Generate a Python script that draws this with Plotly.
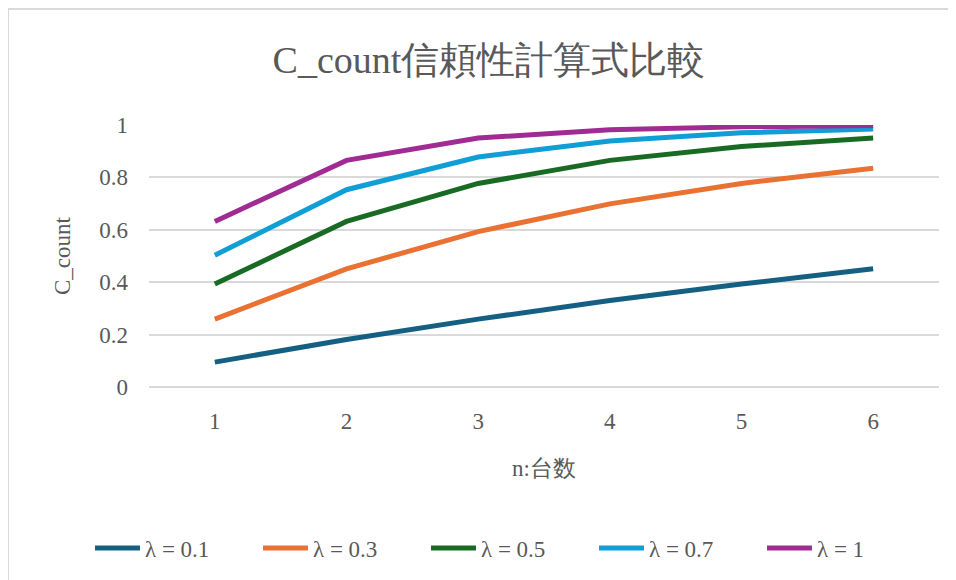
import plotly.graph_objects as go

n_units = [1, 2, 3, 4, 5, 6]
series_names = ["λ = 0.1", "λ = 0.3", "λ = 0.5", "λ = 0.7", "λ = 1"]
c_l01 = [0.095, 0.181, 0.259, 0.330, 0.393, 0.451]
c_l03 = [0.259, 0.451, 0.593, 0.699, 0.777, 0.835]
c_l05 = [0.393, 0.632, 0.777, 0.865, 0.918, 0.950]
c_l07 = [0.503, 0.753, 0.878, 0.939, 0.970, 0.985]
c_l10 = [0.632, 0.865, 0.950, 0.982, 0.993, 0.998]
colors = ["#156082", "#E97132", "#196B24", "#0F9ED5", "#A02B93"]

FONT = "Liberation Serif"
TXT = "#595959"

fig = go.Figure()
for name, vals, col in zip(series_names, [c_l01, c_l03, c_l05, c_l07, c_l10], colors):
    fig.add_trace(go.Scatter(x=n_units, y=vals, mode="lines", name=name,
                             line=dict(color=col, width=5)))

# page is offset by 8px (body margin)
W, H = 948, 572
L, R, T, B = 141, 17, 117, 192
pw, ph = W - L - R, H - T - B

fig.update_layout(
    width=W, height=H,
    margin=dict(l=L, r=R, t=T, b=B),
    paper_bgcolor="white", plot_bgcolor="white",
    font=dict(family=FONT, color=TXT, size=23),
    title=dict(text="C_count信頼性計算式比較", x=(489 - 8) / W, xanchor="center",
               y=1 - 52 / H, yanchor="middle",
               font=dict(size=38, color=TXT, family=FONT)),
    xaxis=dict(range=[0.5, 6.5], tickvals=n_units, ticktext=[str(v) for v in n_units],
               showgrid=False, zeroline=False, showline=False, ticks="",
               ticklabelstandoff=18,
               title=dict(text="n:台数", font=dict(size=23), standoff=26)),
    yaxis=dict(range=[0, 1], tickvals=[0, 0.2, 0.4, 0.6, 0.8, 1],
               ticktext=["0", "0.2", "0.4", "0.6", "0.8", "1"],
               showgrid=True, gridcolor="#d9d9d9", gridwidth=2,
               zeroline=True, zerolinecolor="#d9d9d9", zerolinewidth=2,
               ticks="", ticklabelstandoff=20,
               title=dict(text="C_count", font=dict(size=23), standoff=22)),
    legend=dict(orientation="h", x=(90 - 8 - L) / pw, xanchor="left",
                xref="paper", y=(ph + T - 540) / ph, yref="paper", yanchor="middle",
                font=dict(size=23), itemwidth=45, entrywidth=108, entrywidthmode="pixels"),
    showlegend=True,
)

fig.add_shape(type="rect", xref="paper", yref="paper",
              x0=(0 - L) / pw, x1=(W + 20 - L) / pw,
              y0=-(B + 20) / ph, y1=(T + ph - 0.5) / ph,
              line=dict(color="#d9d9d9", width=2), layer="below")

fig.write_html("out.html")
